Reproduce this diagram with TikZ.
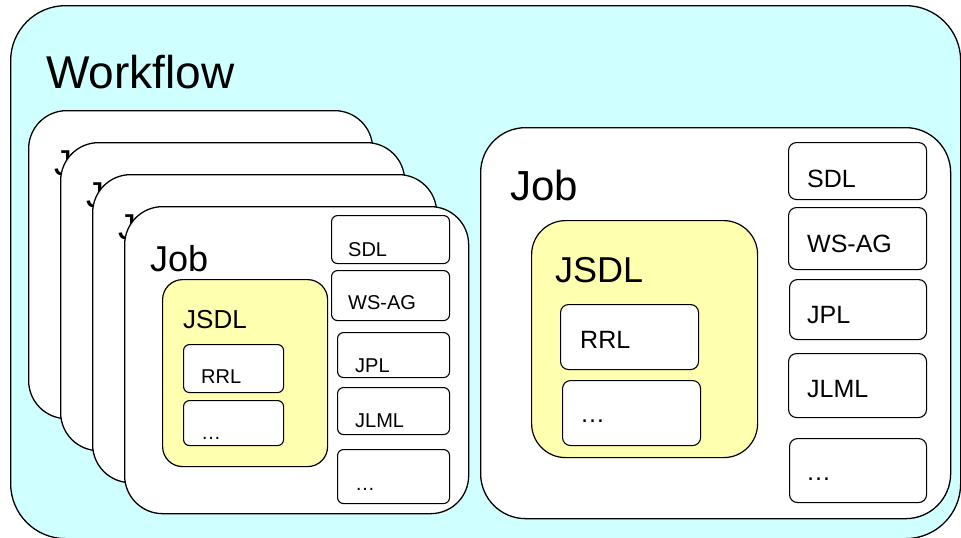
\documentclass[tikz,border=0pt]{standalone}
\usepackage{fontspec}
\setmainfont{Liberation Sans}
\definecolor{cyanfill}{RGB}{208,255,255}
\definecolor{yel}{RGB}{255,255,176}
\tikzset{
  wf/.style={draw, fill=cyanfill, rounded corners=55pt, line width=1.3pt, anchor=north west, inner sep=0pt},
  jobbox/.style={draw, fill=white, rounded corners=38pt, line width=1.3pt, anchor=north west, inner sep=0pt},
  jsdlbox/.style={draw, fill=yel, rounded corners=20pt, line width=1.2pt, anchor=north west, inner sep=0pt},
  itembox/.style={draw, fill=white, rounded corners=6pt, line width=1.1pt, anchor=north west, inner sep=0pt},
  lab/.style={anchor=base west, inner sep=0pt},
  fA/.style={font=\fontsize{46}{50}\selectfont},
  fJ/.style={font=\fontsize{36}{40}\selectfont},
  fJs/.style={font=\fontsize{26}{30}\selectfont},
  fS/.style={font=\fontsize{20}{24}\selectfont},
  fJR/.style={font=\fontsize{42}{46}\selectfont},
  fJsR/.style={font=\fontsize{36}{40}\selectfont},
  fSR/.style={font=\fontsize{25}{29}\selectfont},
}
\begin{document}
\begin{tikzpicture}[x=1pt,y=-1pt]
\useasboundingbox (0,0) rectangle (961,538);
% workflow
\node[wf, minimum width=950pt, minimum height=533pt] (wf) at (10,5) {};
\node[lab, fA] (wflab) at (46,88) {Workflow};
% stacked job boxes
\node[jobbox, minimum width=344pt, minimum height=308pt] (job1) at (28,110) {};
\node[lab, fJ] (job1lab) at (54,175) {Job};
\node[jobbox, minimum width=344pt, minimum height=308pt] (job2) at (60,142) {};
\node[lab, fJ] (job2lab) at (86,207) {Job};
\node[jobbox, minimum width=344pt, minimum height=308pt] (job3) at (92,174) {};
\node[lab, fJ] (job3lab) at (118,239) {Job};
\node[jobbox, minimum width=344pt, minimum height=307pt] (job4) at (124,206) {};
\node[lab, fJ] (job4lab) at (150,271) {Job};
% left contents
\node[jsdlbox, minimum width=165pt, minimum height=187pt] (ljsdl) at (162,279) {};
\node[lab, fJs] (ljsdllab) at (183,328) {JSDL};
\node[itembox, minimum width=100pt, minimum height=48pt] (lrrl) at (183,344) {};
\node[lab, fS] (lrrllab) at (201,383) {RRL};
\node[itembox, minimum width=100pt, minimum height=45pt] (ldots) at (183,400) {};
\node[lab, fS] (ldotslab) at (201,439) {…};
\node[itembox, minimum width=118pt, minimum height=48pt] (lsdl) at (331,215) {};
\node[lab, fS] (lsdllab) at (348,256) {SDL};
\node[itembox, minimum width=118pt, minimum height=50pt] (lwsag) at (331,270) {};
\node[lab, fS] (lwsaglab) at (348,309) {WS-AG};
\node[itembox, minimum width=112pt, minimum height=45pt] (ljpl) at (337,332) {};
\node[lab, fS] (ljpllab) at (355,372) {JPL};
\node[itembox, minimum width=112pt, minimum height=47pt] (ljlml) at (337,387) {};
\node[lab, fS] (ljlmllab) at (355,427) {JLML};
\node[itembox, minimum width=112pt, minimum height=54pt] (ldots2) at (337,449) {};
\node[lab, fS] (ldots2lab) at (355,490) {…};
% right job
\node[jobbox, rounded corners=45pt, minimum width=470pt, minimum height=391pt] (jobR) at (480,127) {};
\node[lab, fJR] (jobRlab) at (510,200) {Job};
\node[jsdlbox, rounded corners=34pt, minimum width=226pt, minimum height=237pt] (rjsdl) at (531,220) {};
\node[lab, fJsR] (rjsdllab) at (555,282) {JSDL};
\node[itembox, rounded corners=8pt, minimum width=138pt, minimum height=65pt] (rrrl) at (560,304) {};
\node[lab, fSR] (rrrllab) at (580,348) {RRL};
\node[itembox, rounded corners=8pt, minimum width=138pt, minimum height=65pt] (rdots) at (562,380) {};
\node[lab, fSR] (rdotslab) at (580,422) {…};
\node[itembox, rounded corners=8pt, minimum width=138pt, minimum height=57pt] (rsdl) at (788,142) {};
\node[lab, fSR] (rsdllab) at (807,187) {SDL};
\node[itembox, rounded corners=8pt, minimum width=138pt, minimum height=62pt] (rwsag) at (788,207) {};
\node[lab, fSR] (rwsaglab) at (807,252) {WS-AG};
\node[itembox, rounded corners=8pt, minimum width=137pt, minimum height=60pt] (rjpl) at (789,279) {};
\node[lab, fSR] (rjpllab) at (807,323) {JPL};
\node[itembox, rounded corners=8pt, minimum width=138pt, minimum height=64pt] (rjlml) at (788,353) {};
\node[lab, fSR] (rjlmllab) at (807,397) {JLML};
\node[itembox, rounded corners=8pt, minimum width=137pt, minimum height=64pt] (rdots2) at (789,438) {};
\node[lab, fSR] (rdots2lab) at (806,480) {…};
\end{tikzpicture}
\end{document}
